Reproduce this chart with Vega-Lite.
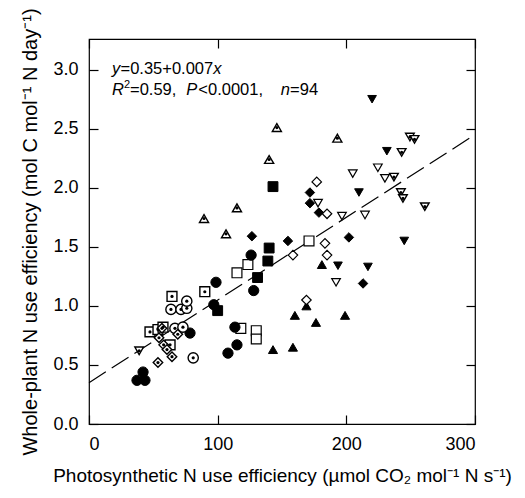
{
  "$schema": "https://vega.github.io/schema/vega-lite/v6.json",
  "autosize": {"type": "none"},
  "width": 386,
  "height": 385,
  "padding": {"left": 89, "top": 39, "right": 50, "bottom": 74},
  "background": "white",
  "config": {
    "view": {"stroke": "black", "strokeWidth": 1.2},
    "font": "Liberation Sans",
    "axis": {"domain": false, "grid": false, "labelFont": "Liberation Sans", "titleFont": "Liberation Sans", "labelFontSize": 18, "titleFontSize": 19, "titleFontWeight": "normal", "labelColor": "black", "titleColor": "black", "tickColor": "black", "tickWidth": 1.2}
  },
  "datasets": {
    "pts": [
      {"x": 89.4, "y": 1.74, "shape": "triangle-up", "style": "dotted"},
      {"x": 115, "y": 1.83, "shape": "triangle-up", "style": "dotted"},
      {"x": 106.5, "y": 1.61, "shape": "triangle-up", "style": "dotted"},
      {"x": 140, "y": 2.24, "shape": "triangle-up", "style": "dotted"},
      {"x": 146, "y": 2.51, "shape": "triangle-up", "style": "dotted"},
      {"x": 193, "y": 2.42, "shape": "triangle-up", "style": "dotted"},
      {"x": 39, "y": 0.62, "shape": "triangle-down", "style": "dotted"},
      {"x": 249.4, "y": 2.43, "shape": "triangle-down", "style": "dotted"},
      {"x": 253, "y": 2.41, "shape": "triangle-down", "style": "dotted"},
      {"x": 243, "y": 2.30, "shape": "triangle-down", "style": "dotted"},
      {"x": 237, "y": 2.09, "shape": "triangle-down", "style": "dotted"},
      {"x": 242.4, "y": 1.96, "shape": "triangle-down", "style": "dotted"},
      {"x": 244, "y": 1.91, "shape": "triangle-down", "style": "dotted"},
      {"x": 261, "y": 1.84, "shape": "triangle-down", "style": "dotted"},
      {"x": 220, "y": 2.75, "shape": "triangle-down", "style": "filled"},
      {"x": 231.5, "y": 2.31, "shape": "triangle-down", "style": "filled"},
      {"x": 209.8, "y": 1.96, "shape": "triangle-down", "style": "filled"},
      {"x": 193.5, "y": 1.34, "shape": "triangle-down", "style": "filled"},
      {"x": 216.8, "y": 1.33, "shape": "triangle-down", "style": "filled"},
      {"x": 245, "y": 1.55, "shape": "triangle-down", "style": "filled"},
      {"x": 224.5, "y": 2.17, "shape": "triangle-down", "style": "open"},
      {"x": 230, "y": 2.08, "shape": "triangle-down", "style": "open"},
      {"x": 205, "y": 2.12, "shape": "triangle-down", "style": "open"},
      {"x": 178, "y": 1.87, "shape": "triangle-down", "style": "open"},
      {"x": 196.6, "y": 1.76, "shape": "triangle-down", "style": "open"},
      {"x": 214.5, "y": 1.77, "shape": "triangle-down", "style": "open"},
      {"x": 192, "y": 1.20, "shape": "triangle-down", "style": "open"},
      {"x": 171.7, "y": 1.96, "shape": "diamond", "style": "filled"},
      {"x": 171.7, "y": 1.87, "shape": "diamond", "style": "filled"},
      {"x": 178.7, "y": 1.79, "shape": "diamond", "style": "filled"},
      {"x": 154.6, "y": 1.55, "shape": "diamond", "style": "filled"},
      {"x": 202, "y": 1.58, "shape": "diamond", "style": "filled"},
      {"x": 213, "y": 1.19, "shape": "diamond", "style": "filled"},
      {"x": 126.6, "y": 1.59, "shape": "diamond", "style": "filled"},
      {"x": 177, "y": 2.05, "shape": "diamond", "style": "open"},
      {"x": 185, "y": 1.78, "shape": "diamond", "style": "open"},
      {"x": 158.5, "y": 1.43, "shape": "diamond", "style": "open"},
      {"x": 183.4, "y": 1.53, "shape": "diamond", "style": "open"},
      {"x": 185, "y": 1.43, "shape": "diamond", "style": "open"},
      {"x": 169, "y": 1.00, "shape": "triangle-up", "style": "filled"},
      {"x": 169, "y": 1.05, "shape": "diamond", "style": "open"},
      {"x": 181, "y": 1.35, "shape": "triangle-up", "style": "filled"},
      {"x": 160, "y": 0.92, "shape": "triangle-up", "style": "filled"},
      {"x": 176.4, "y": 0.86, "shape": "triangle-up", "style": "filled"},
      {"x": 199, "y": 0.92, "shape": "triangle-up", "style": "filled"},
      {"x": 158.5, "y": 0.65, "shape": "triangle-up", "style": "filled"},
      {"x": 143, "y": 0.63, "shape": "triangle-up", "style": "filled"},
      {"x": 143, "y": 2.01, "shape": "square", "style": "filled"},
      {"x": 140, "y": 1.49, "shape": "square", "style": "filled"},
      {"x": 139, "y": 1.38, "shape": "square", "style": "filled"},
      {"x": 131, "y": 1.24, "shape": "square", "style": "filled"},
      {"x": 100, "y": 0.96, "shape": "square", "style": "filled"},
      {"x": 171, "y": 1.55, "shape": "square", "style": "open"},
      {"x": 123.5, "y": 1.35, "shape": "square", "style": "open"},
      {"x": 115, "y": 1.28, "shape": "square", "style": "open"},
      {"x": 118, "y": 0.81, "shape": "square", "style": "open"},
      {"x": 130, "y": 0.79, "shape": "square", "style": "open"},
      {"x": 130, "y": 0.72, "shape": "square", "style": "open"},
      {"x": 126, "y": 1.43, "shape": "circle", "style": "filled"},
      {"x": 98.7, "y": 1.20, "shape": "circle", "style": "filled"},
      {"x": 128, "y": 1.13, "shape": "circle", "style": "filled"},
      {"x": 97, "y": 1.01, "shape": "circle", "style": "filled"},
      {"x": 113.4, "y": 0.82, "shape": "circle", "style": "filled"},
      {"x": 115, "y": 0.67, "shape": "circle", "style": "filled"},
      {"x": 108, "y": 0.60, "shape": "circle", "style": "filled"},
      {"x": 78.5, "y": 0.77, "shape": "circle", "style": "filled"},
      {"x": 42, "y": 0.44, "shape": "circle", "style": "filled"},
      {"x": 37.3, "y": 0.37, "shape": "circle", "style": "filled"},
      {"x": 43.5, "y": 0.37, "shape": "circle", "style": "filled"},
      {"x": 64.5, "y": 1.08, "shape": "square", "style": "dotted"},
      {"x": 90, "y": 1.12, "shape": "square", "style": "dotted"},
      {"x": 47.4, "y": 0.78, "shape": "square", "style": "dotted"},
      {"x": 53.6, "y": 0.80, "shape": "square", "style": "dotted"},
      {"x": 57.5, "y": 0.82, "shape": "square", "style": "dotted"},
      {"x": 63, "y": 0.67, "shape": "square", "style": "dotted"},
      {"x": 63.7, "y": 0.97, "shape": "circle", "style": "dotted"},
      {"x": 71.5, "y": 0.97, "shape": "circle", "style": "dotted"},
      {"x": 76, "y": 0.98, "shape": "circle", "style": "dotted"},
      {"x": 76, "y": 1.04, "shape": "circle", "style": "dotted"},
      {"x": 66.8, "y": 0.81, "shape": "circle", "style": "dotted"},
      {"x": 73, "y": 0.82, "shape": "circle", "style": "dotted"},
      {"x": 81, "y": 0.56, "shape": "circle", "style": "dotted"},
      {"x": 56.7, "y": 0.81, "shape": "diamond", "style": "dotted"},
      {"x": 54.4, "y": 0.73, "shape": "diamond", "style": "dotted"},
      {"x": 69, "y": 0.76, "shape": "diamond", "style": "dotted"},
      {"x": 58, "y": 0.67, "shape": "diamond", "style": "dotted"},
      {"x": 60.6, "y": 0.63, "shape": "diamond", "style": "dotted"},
      {"x": 64.5, "y": 0.57, "shape": "diamond", "style": "dotted"},
      {"x": 53.6, "y": 0.52, "shape": "diamond", "style": "dotted"}
    ],
    "fit": [
      {"x": 0, "y": 0.35},
      {"x": 298, "y": 2.436}
    ],
    "one": [{}]
  },
  "resolve": {"axis": {"x": "independent", "y": "independent"}},
  "layer": [
    {
      "data": {"name": "fit"},
      "mark": {"type": "line", "color": "black", "strokeWidth": 1.2, "strokeDash": [20, 7]},
      "encoding": {
        "x": {"field": "x", "type": "quantitative", "scale": {"domain": [0, 300], "nice": false}, "axis": null},
        "y": {"field": "y", "type": "quantitative", "scale": {"domain": [0, 3.26], "nice": false}, "axis": null}
      }
    },
    {
      "data": {"name": "pts"},
      "mark": {"type": "point", "filled": false, "stroke": "black", "opacity": 1},
      "encoding": {
        "x": {"field": "x", "type": "quantitative", "scale": {"domain": [0, 300], "nice": false},
          "axis": {"orient": "bottom", "values": [0, 100, 200, 300], "format": "d", "tickSize": -9, "labelPadding": 20, "title": "Photosynthetic N use efficiency (µmol CO₂ mol⁻¹ N s⁻¹)", "titlePadding": 13}},
        "y": {"field": "y", "type": "quantitative", "scale": {"domain": [0, 3.26], "nice": false},
          "axis": {"orient": "left", "values": [0, 0.5, 1, 1.5, 2, 2.5, 3], "format": ".1f", "tickSize": -9, "labelPadding": 20, "title": "Whole-plant N use efficiency (mol C mol⁻¹ N day⁻¹)", "titleFontSize": 20, "titlePadding": 12}},
        "shape": {"field": "shape", "type": "nominal", "scale": null},
        "fill": {"field": "style", "type": "nominal", "scale": {"domain": ["filled", "open", "dotted"], "range": ["black", "white", "white"]}, "legend": null},
        "strokeWidth": {"field": "style", "type": "nominal", "scale": {"domain": ["filled", "open", "dotted"], "range": [1, 1.4, 2.0]}, "legend": null},
        "size": {"field": "shape", "type": "nominal", "scale": {"domain": ["circle", "square", "diamond", "triangle-up", "triangle-down"], "range": [105, 75, 125, 150, 150]}, "legend": null}
      }
    },
    {
      "data": {"name": "pts"},
      "transform": [{"filter": "datum.style === 'dotted'"}],
      "mark": {"type": "point", "shape": "circle", "filled": true, "color": "black", "size": 10, "opacity": 1},
      "encoding": {
        "x": {"field": "x", "type": "quantitative", "scale": {"domain": [0, 300], "nice": false},
          "axis": {"orient": "top", "values": [0, 100, 200, 300], "labels": false, "tickSize": -9, "title": null}},
        "y": {"field": "y", "type": "quantitative", "scale": {"domain": [0, 3.26], "nice": false},
          "axis": {"orient": "right", "values": [0, 0.5, 1, 1.5, 2, 2.5, 3], "labels": false, "tickSize": -9, "title": null}}
      }
    },
    {"data": {"name": "one"}, "mark": {"type": "text", "text": "y", "fontStyle": "italic", "fontSize": 16.5, "align": "left", "baseline": "alphabetic"},
      "encoding": {"x": {"datum": 17.9, "type": "quantitative", "axis": null}, "y": {"datum": 2.966, "type": "quantitative", "axis": null}}},
    {"data": {"name": "one"}, "mark": {"type": "text", "text": "=0.35+0.007", "fontSize": 16.5, "align": "left", "baseline": "alphabetic"},
      "encoding": {"x": {"datum": 24.5, "type": "quantitative", "axis": null}, "y": {"datum": 2.966, "type": "quantitative", "axis": null}}},
    {"data": {"name": "one"}, "mark": {"type": "text", "text": "x", "fontStyle": "italic", "fontSize": 16.5, "align": "left", "baseline": "alphabetic"},
      "encoding": {"x": {"datum": 96.5, "type": "quantitative", "axis": null}, "y": {"datum": 2.966, "type": "quantitative", "axis": null}}},
    {"data": {"name": "one"}, "mark": {"type": "text", "text": "R", "fontStyle": "italic", "fontSize": 16.5, "align": "left", "baseline": "alphabetic"},
      "encoding": {"x": {"datum": 17.9, "type": "quantitative", "axis": null}, "y": {"datum": 2.788, "type": "quantitative", "axis": null}}},
    {"data": {"name": "one"}, "mark": {"type": "text", "text": "2", "fontSize": 11, "align": "left", "baseline": "alphabetic"},
      "encoding": {"x": {"datum": 27.2, "type": "quantitative", "axis": null}, "y": {"datum": 2.847, "type": "quantitative", "axis": null}}},
    {"data": {"name": "one"}, "mark": {"type": "text", "text": "=0.59,", "fontSize": 16.5, "align": "left", "baseline": "alphabetic"},
      "encoding": {"x": {"datum": 31.9, "type": "quantitative", "axis": null}, "y": {"datum": 2.788, "type": "quantitative", "axis": null}}},
    {"data": {"name": "one"}, "mark": {"type": "text", "text": "P", "fontStyle": "italic", "fontSize": 16.5, "align": "left", "baseline": "alphabetic"},
      "encoding": {"x": {"datum": 75.5, "type": "quantitative", "axis": null}, "y": {"datum": 2.788, "type": "quantitative", "axis": null}}},
    {"data": {"name": "one"}, "mark": {"type": "text", "text": "<0.0001,", "fontSize": 16.5, "align": "left", "baseline": "alphabetic"},
      "encoding": {"x": {"datum": 85, "type": "quantitative", "axis": null}, "y": {"datum": 2.788, "type": "quantitative", "axis": null}}},
    {"data": {"name": "one"}, "mark": {"type": "text", "text": "n", "fontStyle": "italic", "fontSize": 16.5, "align": "left", "baseline": "alphabetic"},
      "encoding": {"x": {"datum": 149, "type": "quantitative", "axis": null}, "y": {"datum": 2.788, "type": "quantitative", "axis": null}}},
    {"data": {"name": "one"}, "mark": {"type": "text", "text": "=94", "fontSize": 16.5, "align": "left", "baseline": "alphabetic"},
      "encoding": {"x": {"datum": 156.3, "type": "quantitative", "axis": null}, "y": {"datum": 2.788, "type": "quantitative", "axis": null}}}
  ]
}
